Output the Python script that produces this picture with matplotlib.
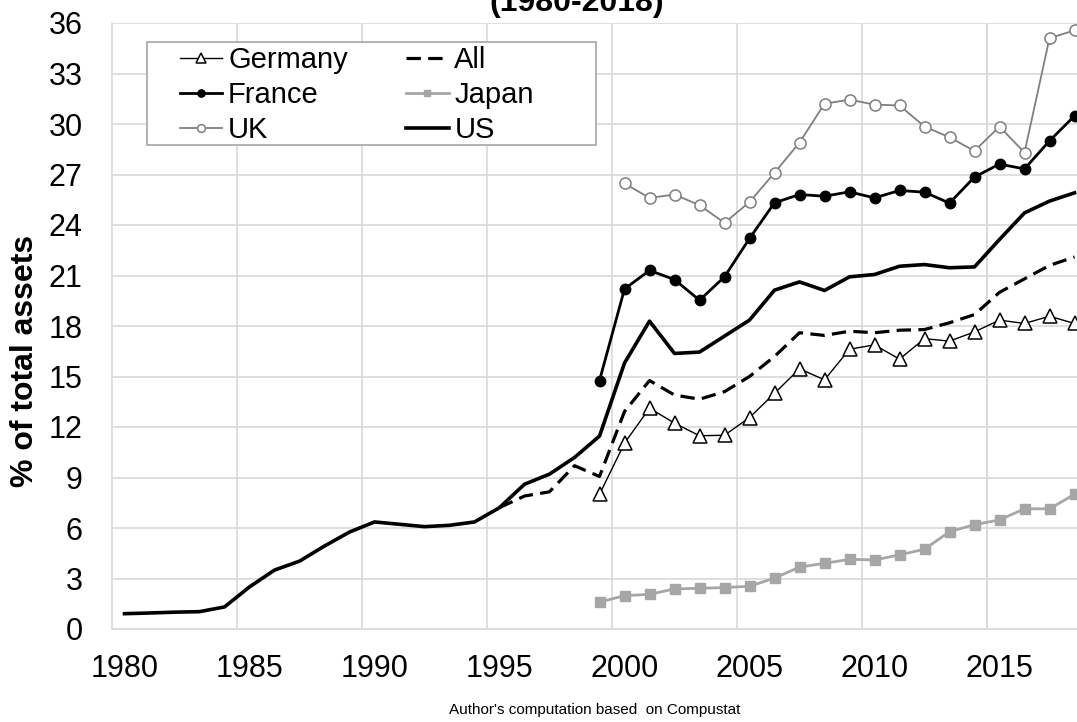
import numpy as np
import matplotlib
matplotlib.use("Agg")
import matplotlib.pyplot as plt
from matplotlib.patches import Rectangle

plt.rcParams["font.family"] = ["Liberation Sans", "DejaVu Sans"]

# ---------------- data (% of total assets) ----------------
years_us = list(range(1980, 2019))
us = [0.91, 0.95, 1.0, 1.03, 1.31, 2.5, 3.5, 4.03, 4.93, 5.76,
      6.36, 6.22, 6.08, 6.16, 6.36, 7.21, 8.6, 9.2, 10.19, 11.46,
      15.8, 18.29, 16.37, 16.45, 17.4, 18.35, 20.13, 20.62, 20.11, 20.92,
      21.06, 21.55, 21.65, 21.46, 21.51, 23.14, 24.72, 25.42, 25.91]

years_all = list(range(1995, 2019))
all_firms = [7.21, 7.9, 8.15, 9.7, 9.06,
             12.92, 14.76, 13.9, 13.65, 14.1, 15.0, 16.19, 17.6, 17.44, 17.69,
             17.6, 17.75, 17.79, 18.19, 18.68, 20.0, 20.8, 21.6, 22.1]

years_int = list(range(1999, 2019))
germany = [8.0, 11.04, 13.12, 12.23, 11.48, 11.51, 12.56, 14.0, 15.46, 14.8,
           16.62, 16.88, 16.03, 17.25, 17.1, 17.65, 18.35, 18.15, 18.58, 18.15]
france = [14.76, 20.2, 21.3, 20.76, 19.53, 20.92, 23.2, 25.32, 25.81, 25.71,
          25.97, 25.61, 26.05, 25.95, 25.3, 26.85, 27.62, 27.33, 29.0, 30.48]
japan = [1.6, 1.98, 2.06, 2.38, 2.42, 2.46, 2.54, 3.02, 3.68, 3.9,
         4.14, 4.1, 4.4, 4.74, 5.78, 6.2, 6.48, 7.14, 7.14, 8.0]

years_uk = list(range(2000, 2019))
uk = [26.47, 25.61, 25.81, 25.18, 24.13, 25.36, 27.1, 28.9, 31.2, 31.45,
      31.15, 31.1, 29.85, 29.21, 28.4, 29.85, 28.3, 35.1, 35.56]

tick_years = list(range(1980, 2016, 5))
y_ticks = list(range(0, 37, 3))

# ---------------- figure ----------------
W, H = 1077, 722
fig = plt.figure(figsize=(W / 100, H / 100), dpi=100, facecolor="white")
ax = fig.add_axes([112 / W, (H - 629) / H, (W - 112) / W, 606 / H])

GRID = "#d9d9d9"

ax.plot(years_int, germany, color="black", lw=1.0, marker="^", ms=10,
        mfc="white", mec="black", mew=1.1, label="Germany", zorder=4)
ax.plot(years_int, france, color="black", lw=2.0, marker="o", ms=7.5,
        mfc="black", mec="black", label="France", zorder=4)
ax.plot(years_uk, uk, color="#7f7f7f", lw=1.3, marker="o", ms=8,
        mfc="white", mec="#7f7f7f", mew=1.1, label="UK", zorder=4)
ax.plot(years_all, all_firms, color="black", lw=2.3, ls=(0, (4.5, 2.3)),
        label="All", zorder=3)
ax.plot(years_int, japan, color="#a6a6a6", lw=2.0, marker="s", ms=7,
        mfc="#a6a6a6", mec="#a6a6a6", label="Japan", zorder=4)
ax.plot(years_us, us, color="black", lw=2.6, label="US", zorder=3)

ax.set_xlim(1979.5, 1979.5 + (W - 112) / 25)
ax.set_ylim(0, 36)

ax.set_xticks(tick_years)
ax.set_xticks([y + 4.5 for y in tick_years[:-1]] + [2014.5], minor=True)
ax.set_yticks(y_ticks)
ax.tick_params(axis="both", which="both", length=0, labelsize=22)
ax.tick_params(axis="y", pad=21)
ax.tick_params(axis="x", pad=18)
ax.grid(True, axis="y", which="major", color=GRID, lw=1.2, zorder=0)
ax.grid(True, axis="x", which="minor", color=GRID, lw=1.2, zorder=0)
ax.grid(False, axis="x", which="major")
ax.set_axisbelow(True)

for side in ["top", "right"]:
    ax.spines[side].set_visible(False)
for side in ["left", "bottom"]:
    ax.spines[side].set_color(GRID)
    ax.spines[side].set_linewidth(1.2)

ax.set_ylabel("% of total assets", fontsize=23, fontweight="bold")
ax.yaxis.set_label_coords(40 / W, 0.5, transform=fig.transFigure)

# legend frame drawn separately
frame = Rectangle((147 / W, 1 - 145 / H), 449 / W, 103 / H,
                  transform=fig.transFigure, facecolor="white",
                  edgecolor="#a6a6a6", lw=1.2, zorder=5)
ax.add_patch(frame)
frame.set_clip_on(False)

leg = ax.legend(ncol=2, loc="upper left", frameon=False, fontsize=21,
                bbox_to_anchor=(180 / W, 1 - 46 / H),
                bbox_transform=fig.transFigure, borderpad=0,
                borderaxespad=0, handlelength=1.45, handletextpad=0.2,
                columnspacing=2.0, labelspacing=0.24, markerscale=0.7)
leg.set_zorder(6)

fig.text(577 / W, 1 - 18 / H, "(1980-2018)", ha="center", va="bottom",
         fontsize=23, fontweight="bold")
fig.text(595 / W, 1 - 710 / H, "Author's computation based  on Compustat",
         ha="center", va="center", fontsize=11)

fig.savefig("out.png", dpi=100, facecolor="white")
